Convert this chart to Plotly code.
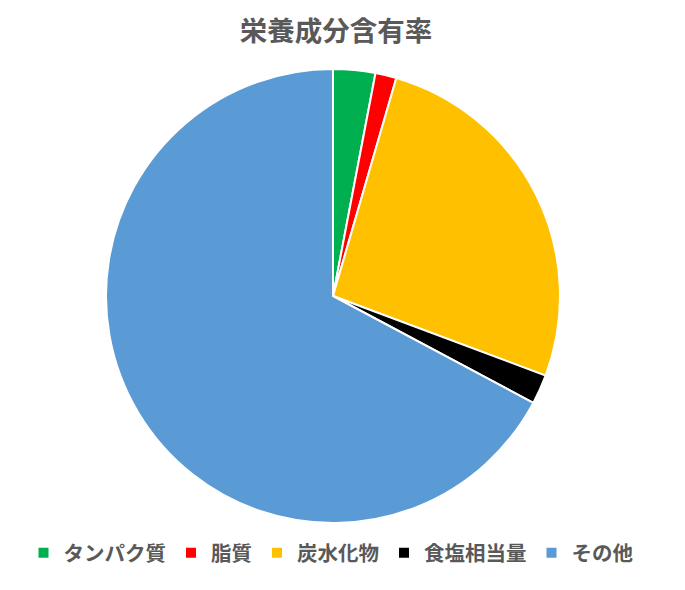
import plotly.graph_objects as go

labels = ["タンパク質", "脂質", "炭水化物", "食塩相当量", "その他"]
values = [3.0, 1.5, 26.2, 2.1, 67.2]
colors = ["#00B050", "#FF0000", "#FFC000", "#000000", "#5B9BD5"]

W, H = 685, 590
OFF = 8  # page body margin
cx, top, R = 333 - OFF, 69 - OFF, 227
fig = go.Figure(go.Pie(
    labels=labels, values=values, sort=False, direction="clockwise", rotation=0,
    domain=dict(x=[(cx - R) / W, (cx + R) / W], y=[0, 1]),
    marker=dict(colors=colors, line=dict(color="white", width=2)),
    textinfo="none", hoverinfo="label+percent",
))
fig.update_layout(
    width=W, height=H,
    margin=dict(l=0, r=0, t=top, b=H - top - 2 * R, autoexpand=False),
    paper_bgcolor="white", plot_bgcolor="white",
    font=dict(family="Noto Sans CJK JP", color="#595959"),
    title=dict(text="<b>栄養成分含有率</b>", x=(336 - OFF) / W, xanchor="center", xref="container",
               y=1 - (31 - OFF) / H, yanchor="middle", yref="container",
               font=dict(size=27.5, color="#595959")),
    legend=dict(orientation="h", xref="paper", x=(331 - OFF) / W, xanchor="center",
                yref="container", y=1 - (553 - OFF) / H, yanchor="middle",
                font=dict(size=20.5, color="#595959", weight="bold"),
                itemwidth=30, traceorder="normal"),
)
fig.write_html("out.html")
